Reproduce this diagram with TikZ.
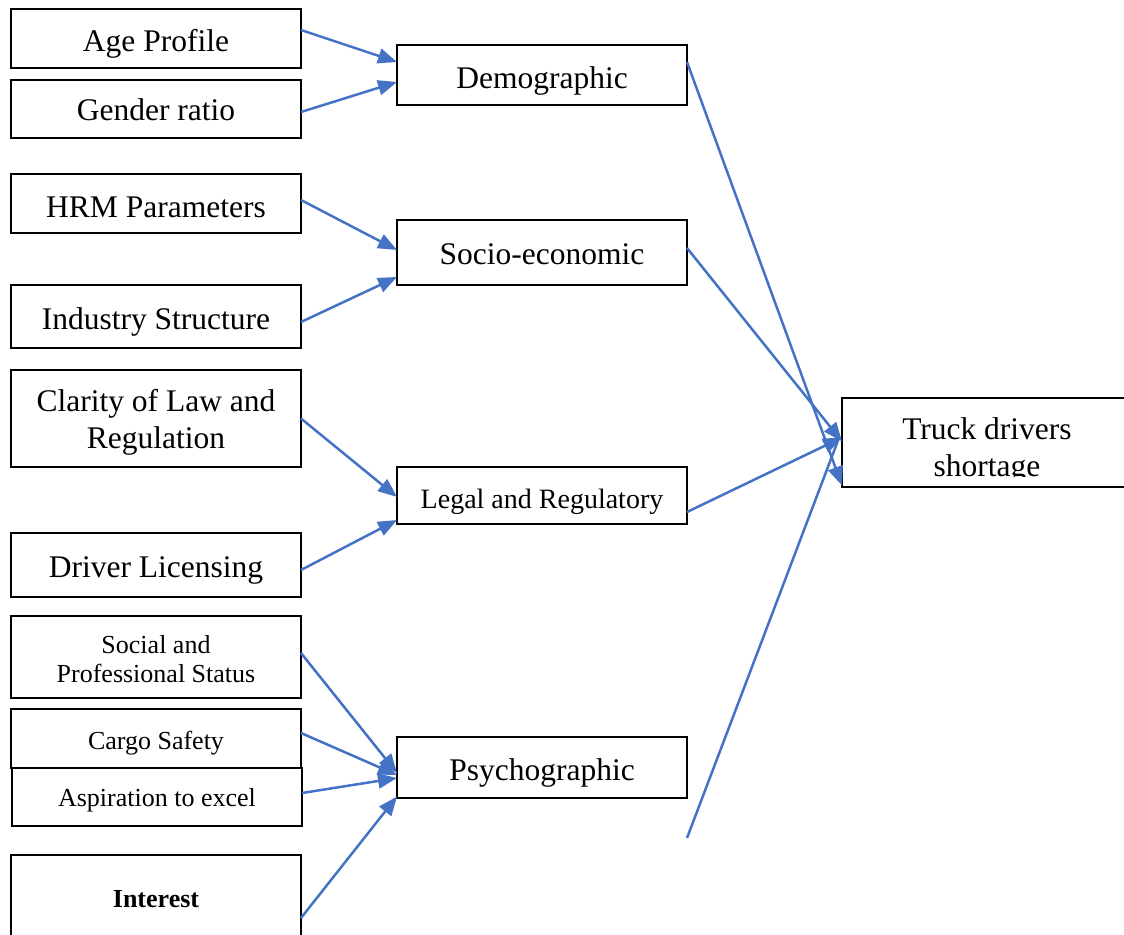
\documentclass[tikz,border=0pt]{standalone}
\usepackage{fontspec}
\setmainfont{Liberation Serif}
\usetikzlibrary{arrows.meta}
\definecolor{lineblue}{RGB}{68,114,196}
\begin{document}
\begin{tikzpicture}[x=1pt,y=-1pt,
  box/.style={draw, line width=2.8pt, inner sep=0pt, outer sep=0pt, minimum width=290pt},
  txt/.style={inner sep=0pt, align=center, font=\fontsize{31.5}{37}\selectfont},
  smalltxt/.style={txt, font=\fontsize{26}{29}\selectfont},
  conn/.style={draw=lineblue, line width=2.5pt, -{Triangle[length=19pt,width=15pt]}},
  plain/.style={draw=lineblue, line width=2.5pt}]
\useasboundingbox (0,0) rectangle (1124,934);
% left boxes
\node[box, minimum height=59pt] (age) at (156,38.5) {};
\node[txt] (agetxt) at (156,43.5) {Age Profile};
\node[box, minimum height=58pt] (gender) at (156,109) {};
\node[txt] (gendertxt) at (156,110) {Gender ratio};
\node[box, minimum height=59pt] (hrm) at (156,203.5) {};
\node[txt] (hrmtxt) at (156,207.5) {HRM Parameters};
\node[box, minimum height=63pt] (ind) at (156,316.5) {};
\node[txt] (indtxt) at (156,322) {Industry Structure};
\node[box, minimum height=97pt] (clar) at (156,418.5) {};
\node[txt] (clartxt) at (156,422.5) {Clarity of Law and\\Regulation};
\node[box, minimum height=64pt] (drv) at (156,565) {};
\node[txt] (drvtxt) at (156,570) {Driver Licensing};
\node[box, minimum height=82pt] (soc) at (156,657) {};
\node[smalltxt] (soctxt) at (156,659) {Social and\\Professional Status};
\node[box, minimum height=59pt] (cargo) at (156,738.5) {};
\node[smalltxt] (cargotxt) at (156,743.5) {Cargo Safety};
\node[box, minimum height=58pt] (asp) at (157,797) {};
\node[smalltxt] (asptxt) at (157,800) {Aspiration to excel};
\node[box, minimum height=86pt] (int) at (156,898) {};
\node[smalltxt, font=\fontsize{26}{29}\selectfont\bfseries] (inttxt) at (156,899) {Interest};
% middle boxes
\node[box, minimum height=60pt] (demo) at (542,75) {};
\node[txt] (demotxt) at (542,81) {Demographic};
\node[box, minimum height=65pt] (socio) at (542,252.5) {};
\node[txt] (sociotxt) at (542,254.5) {Socio-economic};
\node[box, minimum height=57pt] (legal) at (542,495.5) {};
\node[txt, font=\fontsize{28}{32}\selectfont] (legaltxt) at (542,501.5) {Legal and Regulatory};
\node[box, minimum height=61pt] (psych) at (542,767.5) {};
\node[txt] (psychtxt) at (542,772.5) {Psychographic};
% right box
\node[box, minimum height=89pt] (truck) at (987,442.5) {};
\begin{scope}
\clip (842,398) rectangle (1124,476);
\node[txt] (trucktxt) at (987,450) {Truck drivers\\shortage};
\end{scope}
\coordinate (free) at (687,838);
% connectors left -> middle
\draw[conn] ([yshift=8.5pt]age.east) -- ([yshift=13pt]demo.west);
\draw[conn] ([yshift=-3pt]gender.east) -- ([yshift=-7pt]demo.west);
\draw[conn] ([yshift=3.5pt]hrm.east) -- ([yshift=2.5pt]socio.west);
\draw[conn] ([yshift=-5.5pt]ind.east) -- ([yshift=-24.5pt]socio.west);
\draw[conn] (clar.east) -- ([yshift=-1.5pt]legal.west);
\draw[conn] ([yshift=-5pt]drv.east) -- ([yshift=-24.5pt]legal.west);
\draw[conn] ([yshift=4pt]soc.east) -- ([yshift=-5.5pt]psych.west);
\draw[conn] ([yshift=5.5pt]cargo.east) -- ([yshift=-7.5pt]psych.west);
\draw[conn] ([yshift=4pt]asp.east) -- ([yshift=-10.5pt]psych.west);
\draw[conn] ([yshift=-20pt]int.east) -- ([yshift=-29pt]psych.west);
% connectors middle -> right
\draw[conn] ([yshift=13pt]demo.east) -- ([yshift=-43pt]truck.west);
\draw[conn] ([yshift=4.5pt]socio.east) -- ([yshift=1pt]truck.west);
\draw[conn] ([yshift=-16.5pt]legal.east) -- ([yshift=5pt]truck.west);
\draw[plain] (free) -- ([xshift=-4pt,yshift=2pt]truck.west);
\end{tikzpicture}
\end{document}
